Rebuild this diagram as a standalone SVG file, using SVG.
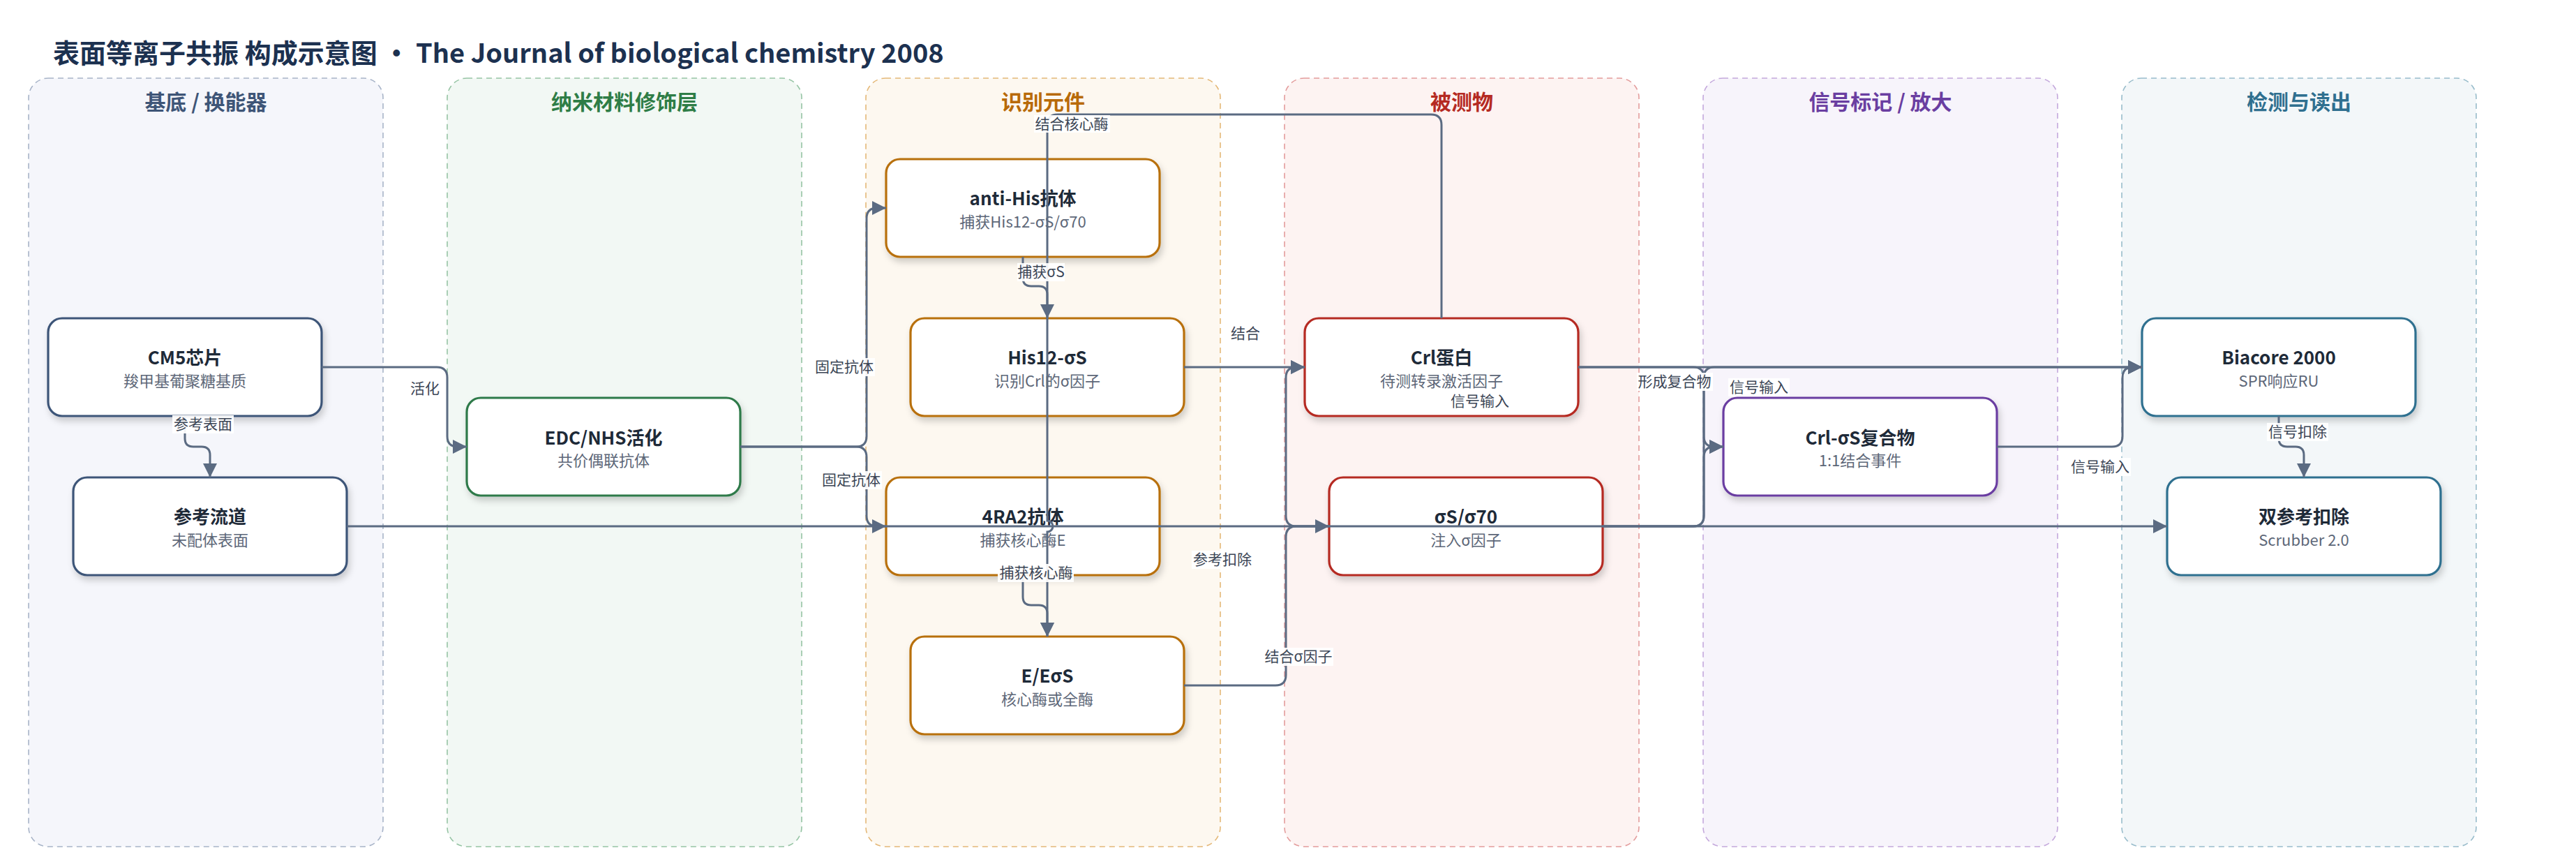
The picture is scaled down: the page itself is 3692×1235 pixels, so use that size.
<svg xmlns="http://www.w3.org/2000/svg" width="3692" height="1235" viewBox="0 0 3692 1235">
<style>
text{font-family:"Noto Sans CJK SC","Noto Sans",sans-serif}
.title{font-size:38px;font-weight:700;fill:#1c3150}
.lane{stroke-width:1.6;stroke-dasharray:8 6}
.lt{font-size:30px;font-weight:700;text-anchor:middle}
.box{fill:#fff;stroke-width:3.2;filter:url(#sh)}
.nt{font-size:26px;font-weight:700;fill:#1e2a38;text-anchor:middle}
.ns{font-size:22px;fill:#5d6778;text-anchor:middle}
.c{fill:none;stroke:#5b6b82;stroke-width:3}
.a{marker-end:url(#arr)}
.lb rect{fill:#fff;fill-opacity:0.92}
.lb text{font-size:21px;fill:#3c4656;text-anchor:middle}
</style>
<defs>
<filter id="sh" x="-10%" y="-20%" width="125%" height="150%">
<feDropShadow dx="3" dy="6" stdDeviation="5" flood-color="#000" flood-opacity="0.18"/>
</filter>
<marker id="arr" markerUnits="userSpaceOnUse" markerWidth="20" markerHeight="20" refX="20" refY="10" orient="auto">
<path d="M0,0 L20,10 L0,20 z" fill="#5b6b82"/>
</marker>
</defs>
<rect width="3692" height="1235" fill="#fff"/>
<text class="title" x="76" y="90">表面等离子共振 构成示意图 · The Journal of biological chemistry 2008</text>

<g id="lanes">
<g id="lane-substrate"><rect class="lane" x="41" y="112" width="508" height="1101" rx="28" fill="#f5f6fb" stroke="#a8b4c8"/><text class="lt" x="295" y="157" fill="#3e5577">基底 / 换能器</text></g>
<g id="lane-nano"><rect class="lane" x="641" y="112" width="508" height="1101" rx="28" fill="#f2f8f4" stroke="#96c4a4"/><text class="lt" x="895" y="157" fill="#2e7d46">纳米材料修饰层</text></g>
<g id="lane-recog"><rect class="lane" x="1241" y="112" width="508" height="1101" rx="28" fill="#fdf8f0" stroke="#e4b878"/><text class="lt" x="1495" y="157" fill="#b86a08">识别元件</text></g>
<g id="lane-analyte"><rect class="lane" x="1841" y="112" width="508" height="1101" rx="28" fill="#fdf3f2" stroke="#e39c9c"/><text class="lt" x="2095" y="157" fill="#b52a22">被测物</text></g>
<g id="lane-signal"><rect class="lane" x="2441" y="112" width="508" height="1101" rx="28" fill="#f7f4fb" stroke="#c4a8dc"/><text class="lt" x="2695" y="157" fill="#6a3ea1">信号标记 / 放大</text></g>
<g id="lane-detect"><rect class="lane" x="3041" y="112" width="508" height="1101" rx="28" fill="#f3f7f9" stroke="#98bccb"/><text class="lt" x="3295" y="157" fill="#2f6f8f">检测与读出</text></g>
</g>

<g id="nodes">
<g id="node-cm5"><rect class="box" x="69" y="456" width="392" height="140" rx="20" stroke="#3d5578"/><text class="nt" x="265" y="522">CM5芯片</text><text class="ns" x="265" y="554">羧甲基葡聚糖基质</text></g>
<g id="node-ref"><rect class="box" x="105" y="684" width="392" height="140" rx="20" stroke="#3d5578"/><text class="nt" x="301" y="750">参考流道</text><text class="ns" x="301" y="782">未配体表面</text></g>
<g id="node-edc"><rect class="box" x="669" y="570" width="392" height="140" rx="20" stroke="#2f7a4a"/><text class="nt" x="865" y="637">EDC/NHS活化</text><text class="ns" x="865" y="668">共价偶联抗体</text></g>
<g id="node-antihis"><rect class="box" x="1270" y="228" width="392" height="140" rx="20" stroke="#b8700a"/><text class="nt" x="1466" y="294">anti-His抗体</text><text class="ns" x="1466" y="326">捕获His12-σS/σ70</text></g>
<g id="node-his12"><rect class="box" x="1305" y="456" width="392" height="140" rx="20" stroke="#b8700a"/><text class="nt" x="1501" y="522">His12-σS</text><text class="ns" x="1501" y="554">识别Crl的σ因子</text></g>
<g id="node-4ra2"><rect class="box" x="1270" y="684" width="392" height="140" rx="20" stroke="#b8700a"/><text class="nt" x="1466" y="750">4RA2抗体</text><text class="ns" x="1466" y="782">捕获核心酶E</text></g>
<g id="node-e"><rect class="box" x="1305" y="912" width="392" height="140" rx="20" stroke="#b8700a"/><text class="nt" x="1501" y="978">E/EσS</text><text class="ns" x="1501" y="1010">核心酶或全酶</text></g>
<g id="node-crl"><rect class="box" x="1870" y="456" width="392" height="140" rx="20" stroke="#b52a22"/><text class="nt" x="2066" y="522">Crl蛋白</text><text class="ns" x="2066" y="554">待测转录激活因子</text></g>
<g id="node-sigma"><rect class="box" x="1905" y="684" width="392" height="140" rx="20" stroke="#b52a22"/><text class="nt" x="2101" y="750">σS/σ70</text><text class="ns" x="2101" y="782">注入σ因子</text></g>
<g id="node-complex"><rect class="box" x="2470" y="570" width="392" height="140" rx="20" stroke="#6a3ea1"/><text class="nt" x="2666" y="637">Crl-σS复合物</text><text class="ns" x="2666" y="668">1:1结合事件</text></g>
<g id="node-biacore"><rect class="box" x="3070" y="456" width="392" height="140" rx="20" stroke="#2f6f8f"/><text class="nt" x="3266" y="522">Biacore 2000</text><text class="ns" x="3266" y="554">SPR响应RU</text></g>
<g id="node-dref"><rect class="box" x="3106" y="684" width="392" height="140" rx="20" stroke="#2f6f8f"/><text class="nt" x="3302" y="750">双参考扣除</text><text class="ns" x="3302" y="782">Scrubber 2.0</text></g>
</g>

<g id="connectors">
<path class="c a" d="M265,596 V628 Q265,640 277,640 H289 Q301,640 301,652 V684"/>
<path class="c a" d="M461,526 H626 Q641,526 641,541 V625 Q641,640 656,640 H669"/>
<path class="c a" d="M1061,640 H1227 Q1242,640 1242,625 V313 Q1242,298 1257,298 H1270"/>
<path class="c a" d="M1061,640 H1227 Q1242,640 1242,655 V739 Q1242,754 1257,754 H1270"/>
<path class="c a" d="M1466,368 V398 Q1466,410 1478,410 H1489 Q1501,410 1501,422 V456"/>
<path class="c a" d="M1466,824 V855 Q1466,867 1478,867 H1489 Q1501,867 1501,879 V912"/>
<path class="c a" d="M2066,456 V179 Q2066,164 2051,164 H1516 Q1501,164 1501,179 V746 A8,8 0 0 1 1501,762 V912"/>
<path class="c a" d="M1697,526 H1870"/>
<path class="c a" d="M1697,982 H1828 Q1843,982 1843,967 V769 Q1843,754 1858,754 H1905"/>
<path class="c a" d="M1905,754 H1858 Q1843,754 1843,739 V541 Q1843,526 1858,526 H1870"/>
<path class="c a" d="M2262,526 H2427 Q2442,526 2442,541 V625 Q2442,640 2457,640 H2470"/>
<path class="c a" d="M2297,754 H2427 Q2442,754 2442,739 V655 Q2442,640 2457,640 H2470"/>
<path class="c a" d="M2262,526 H3070"/>
<path class="c a" d="M2297,754 H2427 Q2442,754 2442,739 V541 Q2442,526 2457,526 H3070"/>
<path class="c a" d="M2862,640 H3027 Q3042,640 3042,625 V541 Q3042,526 3057,526 H3070"/>
<path class="c a" d="M497,754 H3106"/>
<path class="c a" d="M3266,596 V628 Q3266,640 3278,640 H3290 Q3302,640 3302,652 V684"/>
</g>

<g id="edge-labels">
<g class="lb"><rect x="247" y="595" width="88" height="26"/><text x="291" y="615">参考表面</text></g>
<g class="lb"><rect x="586" y="544" width="46" height="26"/><text x="609" y="564">活化</text></g>
<g class="lb"><rect x="1166" y="513" width="88" height="26"/><text x="1210" y="533">固定抗体</text></g>
<g class="lb"><rect x="1176" y="675" width="88" height="26"/><text x="1220" y="695">固定抗体</text></g>
<g class="lb"><rect x="1482" y="165" width="109" height="25"/><text x="1536" y="185">结合核心酶</text></g>
<g class="lb"><rect x="1458" y="377" width="68" height="26"/><text x="1492" y="397">捕获σS</text></g>
<g class="lb"><rect x="1762" y="465" width="46" height="26"/><text x="1785" y="485">结合</text></g>
<g class="lb"><rect x="2077" y="562" width="88" height="26"/><text x="2121" y="582">信号输入</text></g>
<g class="lb"><rect x="2346" y="534" width="109" height="26"/><text x="2400" y="554">形成复合物</text></g>
<g class="lb"><rect x="2477" y="542" width="88" height="26"/><text x="2521" y="562">信号输入</text></g>
<g class="lb"><rect x="2966" y="656" width="88" height="26"/><text x="3010" y="676">信号输入</text></g>
<g class="lb"><rect x="1708" y="789" width="88" height="26"/><text x="1752" y="809">参考扣除</text></g>
<g class="lb"><rect x="1430" y="808" width="109" height="26"/><text x="1485" y="828">捕获核心酶</text></g>
<g class="lb"><rect x="1811" y="928" width="100" height="26"/><text x="1861" y="948">结合σ因子</text></g>
<g class="lb"><rect x="3249" y="606" width="88" height="26"/><text x="3293" y="626">信号扣除</text></g>
</g>
</svg>
